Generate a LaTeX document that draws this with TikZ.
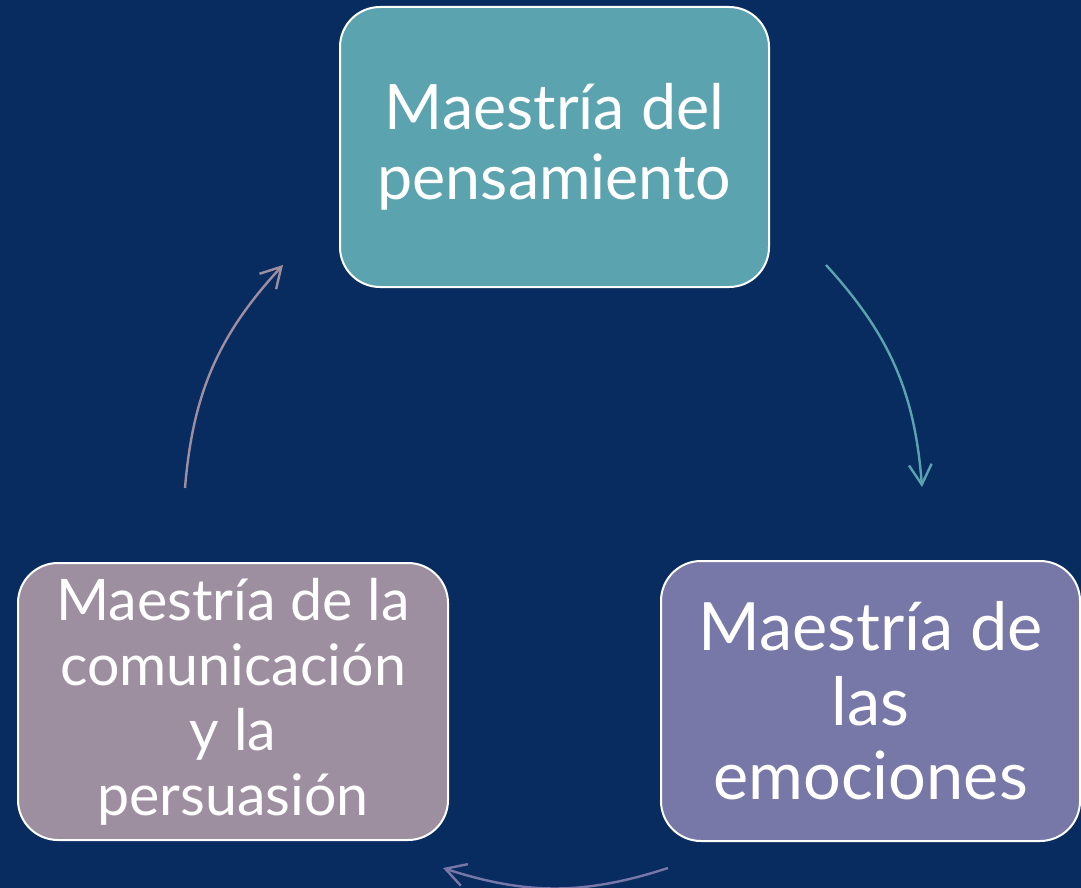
\documentclass[tikz,border=0pt]{standalone}
\usepackage{fontspec}
\setmainfont{Lato}
\usetikzlibrary{arrows.meta}
\definecolor{navy}{HTML}{082B60}
\definecolor{tealbox}{HTML}{5BA3AF}
\definecolor{violetbox}{HTML}{7777A8}
\definecolor{mauvebox}{HTML}{9E8FA0}
\tikzset{every picture/.style={line width=0.75pt}}

\begin{document}
\begin{tikzpicture}[x=0.75pt,y=0.75pt,yscale=-1,xscale=1,
		mastery/.style={draw=white, line width=1.5pt, rounded corners=30pt, text=white, align=center, inner sep=0pt},
		cycle arrow/.style={line width=1.8pt, -{Straight Barb[length=15pt,width=17pt]}}]
		%set diagram to the full slide area
		\fill[navy] (0,0) rectangle (1081,888);
		\useasboundingbox (0,0) rectangle (1081,888);
		
		%Shape: Rounded Rectangle [top]
		\node[mastery, fill=tealbox, minimum width=321.75pt, minimum height=210pt, font=\fontsize{47}{52.5}\selectfont] (pensamiento) at (554.5,147) {Maestría del\\pensamiento};
		%Shape: Rounded Rectangle [right]
		\node[mastery, fill=violetbox, minimum width=314.25pt, minimum height=210pt, font=\fontsize{50}{56}\selectfont] (emociones) at (870.5,701) {Maestría de\\las\\emociones};
		%Shape: Rounded Rectangle [left]
		\node[mastery, fill=mauvebox, minimum width=322.5pt, minimum height=207.75pt, font=\fontsize{43}{48.75}\selectfont] (comunicacion) at (233,701.5) {Maestría de la\\comunicación\\y la\\persuasión};
		
		%arc ends on the circle round the cycle
		\coordinate (pensamiento out) at (826,265);
		\coordinate (emociones in) at (922,487);
		\coordinate (emociones out) at (668,868);
		\coordinate (comunicacion in) at (443,868);
		\coordinate (comunicacion out) at (185,488);
		\coordinate (pensamiento in) at (283,265);
		
		\draw [cycle arrow, tealbox] (pensamiento out) to[bend right=19] (emociones in);
		\draw [cycle arrow, violetbox] (emociones out) to[bend right=18] (comunicacion in);
		\draw [cycle arrow, mauvebox] (comunicacion out) to[bend right=19] (pensamiento in);
		
	\end{tikzpicture}
\end{document}
